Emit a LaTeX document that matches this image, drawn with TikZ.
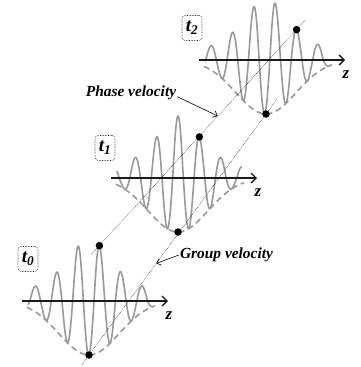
\documentclass[tikz,border=0pt]{standalone}
\usepackage{fontspec}
\setmainfont{Liberation Serif}
\definecolor{onda}{HTML}{999999}
\definecolor{eje}{HTML}{1A1A1A}
\usetikzlibrary{arrows.meta, calc, positioning}

\begin{document}
\begin{tikzpicture}[x=1pt, y=-1pt,
  etiqueta/.style={font=\fontsize{15.4}{18}\selectfont\bfseries\itshape, inner sep=1pt},
  tiempo/.style={font=\fontsize{19}{22}\selectfont\bfseries\itshape, inner sep=1pt, draw=eje, densely dotted, line width=0.6pt, rounded corners=3pt, minimum width=20pt, minimum height=25pt},
  punto/.style={circle, fill=black, inner sep=0pt, minimum size=7.5pt},
  linea/.style={densely dotted, line width=0.5pt},
  flecha/.style={line width=0.6pt, -{Straight Barb[length=4pt, width=7pt]}}]
  \useasboundingbox (0,0) rectangle (360,367);
  \foreach \i/\cx/\ay/\fase/\pd/\tx/\ty in {0/89/301/10.4/10.4/28/259, 1/178/178/0/21.4/105/148, 2/266/60/9.2/30.6/192/28} {
    \draw[onda, line width=1.6pt, dash pattern=on 6pt off 4pt] plot[domain=\cx-62:\cx+66, samples=60, smooth] (\x, {\ay+54*exp(0-(\x-\cx)*(\x-\cx)/1800)});
    \draw[onda, line width=1.6pt] plot[domain=\cx-61:\cx+64, samples=300, smooth] (\x, {\ay-cos(16.8224*(\x-\cx-\fase))*(cos(16.8224*(\x-\cx-\fase)) > 0 ? 62/(1+((\x-\cx)/30)^2) : 54*exp(0-(\x-\cx)*(\x-\cx)/1800))});
    \coordinate (ini\i) at (\cx-67, \ay);
    \coordinate (fin\i) at (\cx+79, \ay);
    \draw[eje, line width=1.4pt, -{Straight Barb[length=5pt, width=10pt]}] (ini\i) -- (fin\i);
    \node[etiqueta, font=\fontsize{17}{20}\selectfont\bfseries\itshape, below=9pt of fin\i, xshift=1pt] (z\i) {z};
    \node[tiempo] (t\i) at (\tx, \ty) {t\textsubscript{\i}};
    \node[punto] (gr\i) at (\cx, \ay+54) {};
    \node[punto] (ph\i) at ({\cx+\pd}, {\ay-62/(1+(\pd/30)^2)}) {};
  }
  \coordinate (fa) at ($(ph0)!-0.04!(ph2)$);
  \coordinate (fb) at ($(ph0)!1.043!(ph2)$);
  \coordinate (ga) at ($(gr0)!-0.04!(gr2)$);
  \coordinate (gb) at ($(gr0)!1.062!(gr2)$);
  \draw[linea] (fa) -- (fb);
  \draw[linea] (ga) -- (gb);
  \node[etiqueta] (fase) at (131, 93) {Phase velocity};
  \node[etiqueta] (grupo) at (226.5, 255) {Group velocity};
  \coordinate (pf) at ($(ph0)!0.6!(ph2)$);
  \coordinate (gf) at ($(gr0)!0.38!(gr2)$);
  \draw[flecha] (fase.base east) -- (pf);
  \draw[flecha] (grupo.west) -- (gf);
\end{tikzpicture}
\end{document}
